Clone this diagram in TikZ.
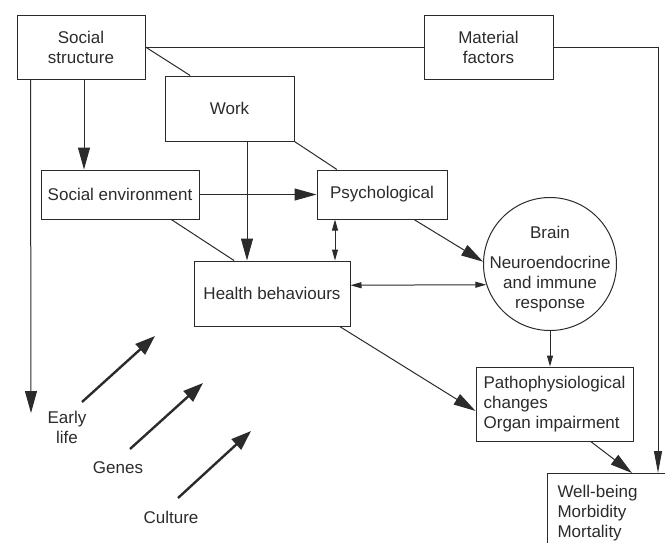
\documentclass[tikz,border=0pt]{standalone}
\usepackage{fontspec}
\setmainfont{Liberation Sans}
\usetikzlibrary{arrows.meta}
\definecolor{ink}{HTML}{2B2B2B}

\begin{document}
\begin{tikzpicture}[x=1pt, y=-1pt,
        bigarr/.style={-{Triangle[length=22pt, width=12pt]}},
        slimarr/.style={-{Triangle[length=22pt, width=8pt]}},
        smallarr/.style={-{Triangle[length=11pt, width=6pt]}},
        bothsmall/.style={{Triangle[length=11pt, width=6pt]}-{Triangle[length=11pt, width=6pt]}},
        freearr/.style={line width=2.4pt, -{Triangle[length=20pt, width=14pt]}}]
        \useasboundingbox (0,0) rectangle (665,542);
        \begin{scope}
            \tikzstyle{every node}=[draw=ink, rectangle, line width=1pt, text=ink, font=\fontsize{17}{20}\selectfont, align=center, inner sep=0pt]
            \node[minimum width=128, minimum height=64] (social) at (81,47) {Social\\structure};
            \node[minimum width=129, minimum height=64] (material) at (488.5,47) {Material\\factors};
            \node[minimum width=129, minimum height=65] (work) at (229.5,108.5) {Work};
            \node[minimum width=158, minimum height=49] (senv) at (120,194.5) {Social environment};
            \node[minimum width=130, minimum height=49] (psych) at (382,194.5) {Psychological};
            \node[minimum width=156, minimum height=65] (hb) at (272,293.5) {Health behaviours};
            \node[circle, minimum size=133] (brain) at (550,264) {};
            \node[minimum width=157, minimum height=74, align=left] (patho) at (554.5,404) {Pathophysiological\\changes\\Organ impairment};
            \node[anchor=north west, minimum width=130, minimum height=80, align=left, text width=112, inner xsep=10, inner ysep=6] (wb) at (547,473) {Well-being\\Morbidity\\Mortality};
        \end{scope}
        \begin{scope}
            \tikzstyle{every node}=[text=ink, font=\fontsize{17}{20}\selectfont, align=center, inner sep=0pt]
            \node (brainlbl) at (550,269) {Brain\\[10pt]Neuroendocrine\\and immune\\response};
            \node (early) at (67,427) {Early\\life};
            \node (genes) at (118,468) {Genes};
            \node (culture) at (171,517) {Culture};
        \end{scope}
        \coordinate (lifeend) at (31,413);
        \coordinate (e1) at (82,402);
        \coordinate (e2) at (155,336);
        \coordinate (g1) at (130,449);
        \coordinate (g2) at (203,383);
        \coordinate (c1) at (178,498);
        \coordinate (c2) at (251,431);
        \begin{scope}
            \tikzstyle{every edge}=[draw, ink, line width=1pt]
            \path
            (social) edge (material)
            (social.east) edge (work.140)
            ([xshift=3pt]social.south) edge[bigarr] ([xshift=3pt]social.south |- senv.north)
            ([xshift=14pt]social.south west) edge[bigarr] (lifeend)
            ([xshift=17.5pt]work.south) edge[bigarr] ([xshift=17.5pt]work.south |- hb.north)
            (work.south east) edge (psych.151)
            (senv) edge[bigarr] (psych)
            (senv.334) edge (hb.139)
            ([xshift=-47pt]psych.south) edge[bothsmall] ([xshift=-47pt]psych.south |- hb.north)
            (psych.322) edge[bigarr] (brain.178)
            (hb.6) edge[bothsmall] (brain.198)
            (brain.south) edge[smallarr] (brain.south |- patho.north)
            (hb.334) edge[bigarr] (patho.185)
            (patho.314) edge[bigarr] ([xshift=85pt]wb.north west)
            (material.east) edge[slimarr, to path={-| (\tikztotarget)}] ([xshift=111pt]wb.north west)
            ;
        \end{scope}
        \begin{scope}
            \tikzstyle{every edge}=[draw, ink, freearr]
            \path
            (e1) edge (e2)
            (g1) edge (g2)
            (c1) edge (c2)
            ;
        \end{scope}
    \end{tikzpicture}
\end{document}
